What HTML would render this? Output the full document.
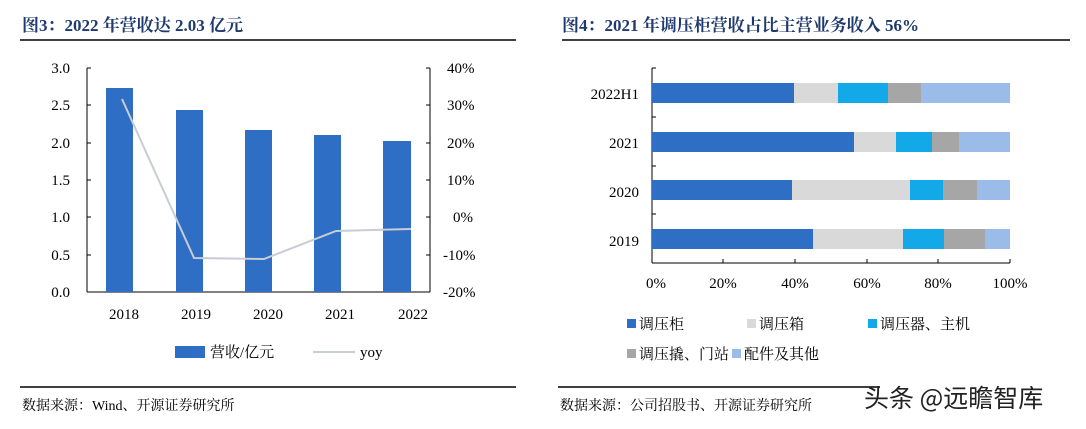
<!DOCTYPE html>
<html><head><meta charset="utf-8"><style>
body{margin:0;background:#fff;width:1086px;height:424px;overflow:hidden}
svg text{font-family:"Liberation Serif","Noto Serif CJK SC",serif}
</style></head><body>
<svg width="1086" height="424" xmlns="http://www.w3.org/2000/svg">
<g font-weight="bold" fill="#1f3a6e" font-size="17">
<text x="22" y="31">图3：2022 年营收达 2.03 亿元</text>
<text x="562" y="31">图4：2021 年调压柜营收占比主营业务收入 56%</text>
</g>
<line x1="20" y1="40" x2="516" y2="40" stroke="#000" stroke-width="1.5"/>
<line x1="562" y1="40" x2="1070" y2="40" stroke="#000" stroke-width="1.5"/>
<g stroke="#000" stroke-width="1">
<line x1="87" y1="68" x2="87" y2="292"/>
<line x1="430" y1="68" x2="430" y2="292"/>
<line x1="87" y1="292" x2="430" y2="292"/>
</g>
<g stroke="#000">
<line x1="87" y1="68" x2="91" y2="68"/><line x1="87" y1="105" x2="91" y2="105"/><line x1="87" y1="143" x2="91" y2="143"/><line x1="87" y1="180" x2="91" y2="180"/><line x1="87" y1="217" x2="91" y2="217"/><line x1="87" y1="255" x2="91" y2="255"/>
<line x1="426" y1="68" x2="430" y2="68"/><line x1="426" y1="105" x2="430" y2="105"/><line x1="426" y1="143" x2="430" y2="143"/><line x1="426" y1="180" x2="430" y2="180"/><line x1="426" y1="217" x2="430" y2="217"/><line x1="426" y1="255" x2="430" y2="255"/>
</g>
<g font-size="15" text-anchor="end" fill="#000">
<text x="70" y="73">3.0</text><text x="70" y="110">2.5</text><text x="70" y="148">2.0</text><text x="70" y="185">1.5</text><text x="70" y="222">1.0</text><text x="70" y="260">0.5</text><text x="70" y="297">0.0</text>
</g>
<g font-size="15" fill="#000">
<text x="447" y="73">40%</text><text x="447" y="110">30%</text><text x="447" y="148">20%</text><text x="447" y="185">10%</text><text x="453" y="222">0%</text><text x="443" y="260">-10%</text><text x="443" y="297">-20%</text>
</g>
<g fill="#2e6ec4">
<rect x="106" y="88" width="27" height="204"/>
<rect x="176" y="110" width="27" height="182"/>
<rect x="245" y="130" width="27" height="162"/>
<rect x="314" y="135" width="27" height="157"/>
<rect x="383" y="141" width="28" height="151"/>
</g>
<polyline points="122,99 194,258 264,259 336,231 411,229" fill="none" stroke="#c8ccd4" stroke-width="2"/>
<g font-size="15" text-anchor="middle" fill="#000">
<text x="124" y="319">2018</text><text x="196" y="319">2019</text><text x="268" y="319">2020</text><text x="340" y="319">2021</text><text x="413" y="319">2022</text>
</g>
<rect x="175" y="346" width="30" height="12" fill="#2e6ec4"/>
<text x="210" y="357" font-size="15">营收/亿元</text>
<line x1="313" y1="352" x2="355" y2="352" stroke="#c8ccd4" stroke-width="2"/>
<text x="360" y="357" font-size="15">yoy</text>
<line x1="20" y1="387" x2="516" y2="387" stroke="#000" stroke-width="1.5"/>
<text x="22" y="410" font-size="14">数据来源：Wind、开源证券研究所</text>
<g stroke="#000">
<line x1="652" y1="68" x2="652" y2="263"/>
<line x1="652" y1="263" x2="1010" y2="263"/>
<line x1="652" y1="68" x2="656" y2="68"/><line x1="652" y1="117" x2="656" y2="117"/><line x1="652" y1="166" x2="656" y2="166"/><line x1="652" y1="214" x2="656" y2="214"/>
<line x1="723" y1="259" x2="723" y2="263"/><line x1="795" y1="259" x2="795" y2="263"/><line x1="867" y1="259" x2="867" y2="263"/><line x1="938" y1="259" x2="938" y2="263"/><line x1="1010" y1="259" x2="1010" y2="263"/>
</g>
<g font-size="15" text-anchor="end" fill="#000">
<text x="639" y="99">2022H1</text><text x="639" y="148">2021</text><text x="639" y="197">2020</text><text x="639" y="246">2019</text>
</g>
<g font-size="15" text-anchor="middle" fill="#000">
<text x="656" y="288">0%</text><text x="723" y="288">20%</text><text x="795" y="288">40%</text><text x="867" y="288">60%</text><text x="938" y="288">80%</text><text x="1010" y="288">100%</text>
</g>
<g>
<rect x="652" y="83" width="142" height="20" fill="#2e6ec4"/><rect x="794" y="83" width="44" height="20" fill="#d9d9d9"/><rect x="838" y="83" width="50" height="20" fill="#13a9e8"/><rect x="888" y="83" width="33" height="20" fill="#a6a6a6"/><rect x="921" y="83" width="89" height="20" fill="#9bbce8"/>
<rect x="652" y="132" width="202" height="20" fill="#2e6ec4"/><rect x="854" y="132" width="42" height="20" fill="#d9d9d9"/><rect x="896" y="132" width="36" height="20" fill="#13a9e8"/><rect x="932" y="132" width="27" height="20" fill="#a6a6a6"/><rect x="959" y="132" width="51" height="20" fill="#9bbce8"/>
<rect x="652" y="180" width="140" height="20" fill="#2e6ec4"/><rect x="792" y="180" width="118" height="20" fill="#d9d9d9"/><rect x="910" y="180" width="33" height="20" fill="#13a9e8"/><rect x="943" y="180" width="34" height="20" fill="#a6a6a6"/><rect x="977" y="180" width="33" height="20" fill="#9bbce8"/>
<rect x="652" y="229" width="161" height="20" fill="#2e6ec4"/><rect x="813" y="229" width="90" height="20" fill="#d9d9d9"/><rect x="903" y="229" width="41" height="20" fill="#13a9e8"/><rect x="944" y="229" width="41" height="20" fill="#a6a6a6"/><rect x="985" y="229" width="25" height="20" fill="#9bbce8"/>
</g>
<g font-size="15" fill="#000">
<rect x="627" y="319" width="9" height="9" fill="#2e6ec4"/><text x="639" y="329">调压柜</text>
<rect x="747" y="319" width="9" height="9" fill="#d9d9d9"/><text x="759" y="329">调压箱</text>
<rect x="868" y="319" width="9" height="9" fill="#13a9e8"/><text x="880" y="329">调压器、主机</text>
<rect x="627" y="349" width="9" height="9" fill="#a6a6a6"/><text x="639" y="359">调压撬、门站</text>
<rect x="732" y="349" width="9" height="9" fill="#9bbce8"/><text x="744" y="359">配件及其他</text>
</g>
<line x1="558" y1="387" x2="880" y2="387" stroke="#000" stroke-width="1.5"/>
<text x="560" y="410" font-size="14">数据来源：公司招股书、开源证券研究所</text>
<text x="864" y="407" font-size="25" fill="#222" style="font-family:'Noto Sans CJK SC',sans-serif">头条 @远瞻智库</text>
</svg>
</body></html>
